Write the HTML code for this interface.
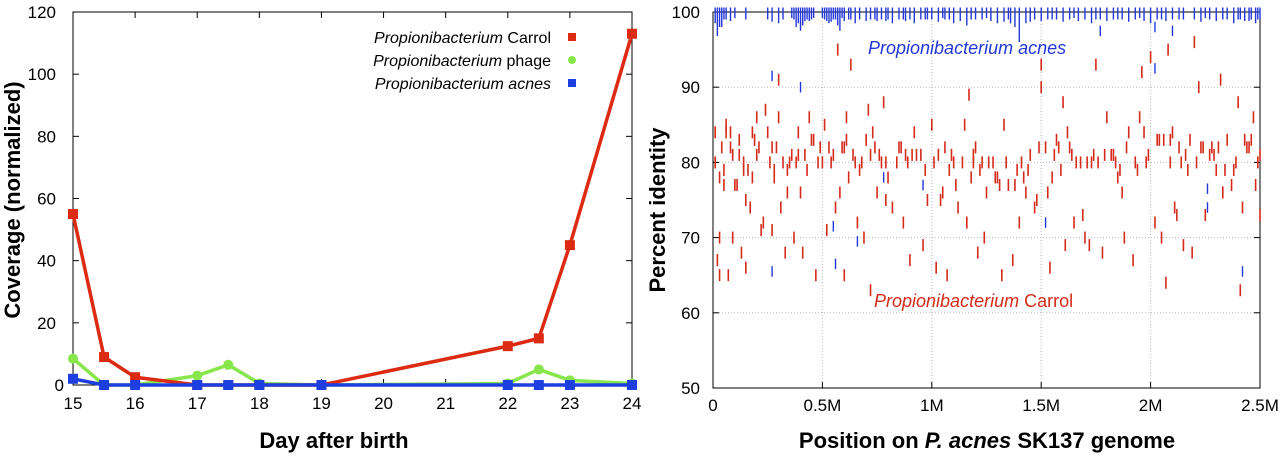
<!DOCTYPE html>
<html><head><meta charset="utf-8"><style>
body{margin:0;background:#fff;}
svg text{font-family:"Liberation Sans",sans-serif;}
</style></head><body>
<svg id="s" width="1280" height="457" xmlns="http://www.w3.org/2000/svg">
<g id="left"></g>
<g id="right"></g>
</svg>
<script>
const days=[15,15.5,16,17,17.5,18,19,22,22.5,23,24];
const carrol=[55,9,2.5,0,0,0,0,12.5,15,45,113];
const phage=[8.5,0,0,3,6.5,0.5,0,0.5,5,1.5,0.5];
const acnes=[2,0,0,0,0,0,0,0,0,0,0];
const xTicks=[15,16,17,18,19,20,21,22,23,24];
const yTicks=[0,20,40,60,80,100,120];

const rPos=[0.01,0.01,0.02,0.03,0.03,0.04,0.05,0.06,0.07,0.08,0.09,0.1,0.11,0.12,0.13,0.14,0.15,0.16,0.17,0.18,0.2,0.21,0.22,0.23,0.24,0.25,0.27,0.27,0.28,0.3,0.3,0.31,0.32,0.33,0.35,0.37,0.38,0.4,0.42,0.44,0.45,0.47,0.48,0.5,0.51,0.52,0.55,0.57,0.58,0.6,0.6,0.61,0.62,0.63,0.64,0.66,0.68,0.7,0.71,0.72,0.73,0.75,0.77,0.78,0.8,0.82,0.85,0.87,0.88,0.9,0.92,0.95,0.96,0.98,1.0,1.02,1.03,1.05,1.07,1.1,1.12,1.15,1.16,1.17,1.18,1.2,1.22,1.24,1.26,1.3,1.32,1.33,1.35,1.37,1.4,1.42,1.45,1.47,1.5,1.5,1.52,1.54,1.55,1.57,1.6,1.62,1.65,1.68,1.7,1.72,1.75,1.76,1.78,1.8,1.82,1.85,1.88,1.9,1.92,1.95,1.96,1.98,2.0,2.02,2.04,2.05,2.07,2.08,2.1,2.12,2.14,2.15,2.18,2.2,2.22,2.23,2.25,2.27,2.3,2.32,2.35,2.37,2.4,2.41,2.42,2.45,2.47,2.48,2.5,2.5,
0.05,0.12,0.19,0.26,0.36,0.43,0.53,0.65,0.74,0.84,0.93,1.08,1.14,1.28,1.38,1.44,1.58,1.66,1.74,1.83,1.93,2.06,2.16,2.28,2.38,2.46,0.15,0.34,0.56,0.79,1.04,1.25,1.48,1.69,1.87,2.11,2.33,0.09,0.41,0.69,1.21,1.61,2.19,
0.03,0.08,0.14,0.2,0.29,0.34,0.39,0.46,0.54,0.59,0.67,0.72,0.79,0.86,0.91,0.97,1.01,1.06,1.11,1.19,1.23,1.29,1.34,1.39,1.43,1.49,1.56,1.59,1.64,1.71,1.79,1.84,1.89,1.94,1.99,2.03,2.09,2.13,2.17,2.24,2.29,2.34,2.39,2.44,2.49,
0.06,0.18,0.28,0.39,0.49,0.61,0.76,0.89,1.09,1.19,1.31,1.41,1.53,1.63,1.73,1.86,1.97,2.09,2.21,2.31,2.43];
const rPct=[84,80,67,65,70,82,77,84,65,84,81,77,77,83,68,80,66,79,74,78,86,82,71,72,87,84,71,82,78,91,86,74,80,68,80,70,80,76,81,86,83,65,80,80,85,71,81,95,76,65,82,86,78,93,81,72,80,83,87,63,84,76,80,88,78,74,82,72,81,67,84,81,69,75,85,66,81,76,65,80,74,85,72,89,78,82,79,70,80,78,65,85,77,67,72,78,81,74,93,90,82,66,78,83,88,84,72,80,70,69,93,80,68,86,81,78,70,84,67,86,92,80,94,72,83,70,64,95,84,73,80,69,83,96,90,82,73,81,79,91,83,77,88,63,74,82,86,77,73,81,
79,81,83,80,81,79,82,80,82,80,81,79,80,80,77,79,82,80,81,81,80,83,81,82,79,83,75,76,74,75,75,76,75,73,76,74,76,70,68,70,68,69,68,
78,82,79,81,82,79,81,83,80,82,79,81,80,82,81,79,80,82,77,81,80,78,80,79,76,82,81,79,81,80,81,80,82,79,81,83,80,82,79,82,81,79,80,82,80,
85,84,79,84,82,83,81,80,81,80,77,80,76,82,80,79,84,83,80,82,83];
const bPos=[0.01,0.02,0.03,0.05,0.08,0.1,0.15,0.25,0.27,0.3,0.32,0.38,0.39,0.4,0.41,0.42,0.43,0.45,0.5,0.52,0.53,0.55,0.57,0.58,0.6,0.62,0.65,0.67,0.7,0.72,0.75,0.77,0.8,0.82,0.85,0.88,0.9,0.92,0.95,0.98,1.0,1.03,1.06,1.1,1.13,1.16,1.2,1.23,1.27,1.3,1.33,1.36,1.38,1.4,1.43,1.47,1.5,1.53,1.57,1.6,1.63,1.67,1.7,1.73,1.77,1.8,1.83,1.87,1.9,1.93,1.97,2.0,2.03,2.07,2.1,2.15,2.2,2.23,2.27,2.3,2.35,2.38,2.4,2.43,2.46,2.48,2.5,
0.04,0.06,0.36,0.37,0.44,0.46,0.51,0.54,0.56,0.59,0.63,0.74,0.79,0.87,0.97,1.05,1.08,1.18,1.25,1.35,1.45,1.55,1.65,1.75,1.85,1.95,2.05,2.13,2.25,2.33,2.41,2.45,2.49];
const bDepth=[1.5,3.2,2,1,1.2,0.8,1,1,1.3,1.5,1,2,1.5,2.5,1.8,1.2,1,1,0.8,1.2,1.5,1,1.8,2.5,1.2,1,1.5,1,1.2,1,1.2,1,1,1.5,1,1.2,1,1.5,1,1,1,1.3,1,1.5,1.2,1.8,1,1,1.2,1.5,1.3,1.5,2,4,1.5,1,1.2,1,1,1.3,1,1.2,1,1.5,1,1.2,1,1,1.3,1,1.2,1.5,1,1.2,1,1,1,1.3,1,1.2,1,1.5,1,1.2,1,1.5,1,
2,1,0.8,1,1.2,0.8,1,1.3,1,0.8,1,1,1.2,1,1,0.8,1,1,0.8,1,1.3,1,0.8,1,1,0.8,1,1,0.8,1,1,1.2,1];
const bPos2=[0.27,0.27,0.4,0.55,0.56,0.66,0.78,0.96,1.52,1.77,2.02,2.02,2.1,2.26,2.26,2.42];
const bPct2=[91.5,65.5,90,71.5,66.5,69.5,78,77,72,97.5,98,92.5,97.5,76.5,74,65.5];
const rTicksX=[0,0.5,1,1.5,2,2.5];
const rTicksXLab=["0","0.5M","1M","1.5M","2M","2.5M"];
const rTicksY=[50,60,70,80,90,100];

const NS="http://www.w3.org/2000/svg";
function mk(p,t,a){const e=document.createElementNS(NS,t);for(const k in a)e.setAttribute(k,a[k]);p.appendChild(e);return e;}
const L=document.getElementById('left'),R=document.getElementById('right');
const lx=v=>73+(v-15)*(632-73)/9, ly=v=>385-v*(385-12)/120;
let fr=mk(L,'rect',{x:73,y:12,width:559,height:373,fill:'none',stroke:'#000','stroke-width':1});

xTicks.forEach(t=>{mk(L,'line',{x1:lx(t),x2:lx(t),y1:385,y2:379,stroke:'#000'});mk(L,'line',{x1:lx(t),x2:lx(t),y1:12,y2:18,stroke:'#000'});
 const tx=mk(L,'text',{x:lx(t),y:409,'font-size':17,'text-anchor':'middle'});tx.textContent=t;
 });
yTicks.forEach(t=>{mk(L,'line',{x1:73,x2:79,y1:ly(t),y2:ly(t),stroke:'#000'});mk(L,'line',{x1:626,x2:632,y1:ly(t),y2:ly(t),stroke:'#000'});
 const tx=mk(L,'text',{x:t==0?64:56,y:ly(t)+6,'font-size':17,'text-anchor':'end'});tx.textContent=t;
 });
function series(vals,col,shape,name){const g=mk(L,'g',{});
 mk(g,'polyline',{points:days.map((d,i)=>lx(d)+','+ly(vals[i])).join(' '),fill:'none',stroke:col,'stroke-width':3.5,'stroke-linejoin':'round'});
 days.forEach((d,i)=>{let m;if(shape=='sq')m=mk(g,'rect',{x:lx(d)-5,y:ly(vals[i])-5,width:10,height:10,fill:col});else m=mk(g,'circle',{cx:lx(d),cy:ly(vals[i]),r:5,fill:col});
 });}
series(phage,'#86e64a','c','phage-series');series(carrol,'#dd2a12','sq','carrol-series');series(acnes,'#1e3fe0','sq','acnes-series');
const leg=[["Propionibacterium"," Carrol",'#dd2a12','sq'],["Propionibacterium"," phage",'#86e64a','c'],["Propionibacterium acnes","",'#1e3fe0','sq']];
leg.forEach((l,i)=>{const y=37+i*23;const t=mk(L,'text',{x:551,y:y+6,'font-size':16,'text-anchor':'end'});
 
 const a=mk(t,'tspan',{'font-style':'italic'});a.textContent=l[0];if(l[1]){const b=mk(t,'tspan',{});b.textContent=l[1];}
 if(l[3]=='sq')mk(L,'rect',{x:568,y:y-4,width:8,height:8,fill:l[2]});else mk(L,'circle',{cx:572,cy:y,r:4,fill:l[2]});});
let t=mk(L,'text',{x:334,y:448,'font-size':22,'font-weight':'bold','text-anchor':'middle'});t.textContent='Day after birth';

t=mk(L,'text',{x:0,y:0,'font-size':22,'font-weight':'bold','text-anchor':'middle',transform:'translate(20,200) rotate(-90)'});t.textContent='Coverage (normalized)';

const rx=v=>713+v*(1260-713)/2.5, ry=v=>388-(v-50)*(388-12)/50;
rTicksY.forEach(v=>{if(v>50&&v<100)mk(R,'line',{x1:713,x2:1260,y1:ry(v),y2:ry(v),stroke:'#bbb','stroke-dasharray':'1,2'});});
rTicksX.forEach(v=>{if(v>0&&v<2.5)mk(R,'line',{x1:rx(v),x2:rx(v),y1:12,y2:388,stroke:'#bbb','stroke-dasharray':'1,2'});});
fr=mk(R,'rect',{x:713,y:12,width:547,height:376,fill:'none',stroke:'#000'});

rTicksX.forEach((v,i)=>{mk(R,'line',{x1:rx(v),x2:rx(v),y1:388,y2:382,stroke:'#000'});
 const tx=mk(R,'text',{x:rx(v),y:411,'font-size':17,'text-anchor':'middle'});tx.textContent=rTicksXLab[i];
 });
rTicksY.forEach(v=>{mk(R,'line',{x1:713,x2:719,y1:ry(v),y2:ry(v),stroke:'#000'});mk(R,'line',{x1:1254,x2:1260,y1:ry(v),y2:ry(v),stroke:'#000'});
 const tx=mk(R,'text',{x:700,y:ry(v)+6,'font-size':17,'text-anchor':'end'});tx.textContent=v;
 });
rPos.forEach((p,i)=>{const l=mk(R,'line',{x1:rx(p),x2:rx(p),y1:ry(rPct[i]+0.8),y2:ry(rPct[i]-0.8),stroke:'#d42a1a','stroke-width':1.6});
 });
bPos.forEach((p,i)=>{const l=mk(R,'line',{x1:rx(p),x2:rx(p),y1:ry(100.6),y2:ry(100-bDepth[i]),stroke:'#2337d8','stroke-width':1.4});
 });
bPos2.forEach((p,i)=>{const l=mk(R,'line',{x1:rx(p),x2:rx(p),y1:ry(bPct2[i]+0.7),y2:ry(bPct2[i]-0.7),stroke:'#2337d8','stroke-width':1.4});
 });
t=mk(R,'text',{x:868,y:54,'font-size':18,'font-style':'italic',fill:'#2337d8'});t.textContent='Propionibacterium acnes';

t=mk(R,'text',{x:874,y:307,'font-size':18,fill:'#d42a1a'});
let a=mk(t,'tspan',{'font-style':'italic'});a.textContent='Propionibacterium';a=mk(t,'tspan',{});a.textContent=' Carrol';
t=mk(R,'text',{x:987,y:448,'font-size':22,'font-weight':'bold','text-anchor':'middle'});
a=mk(t,'tspan',{});a.textContent='Position on ';a=mk(t,'tspan',{'font-style':'italic'});a.textContent='P. acnes';a=mk(t,'tspan',{});a.textContent=' SK137 genome';
t=mk(R,'text',{x:0,y:0,'font-size':22,'font-weight':'bold','text-anchor':'middle',transform:'translate(665,210) rotate(-90)'});t.textContent='Percent identity';

</script>
</body></html>
